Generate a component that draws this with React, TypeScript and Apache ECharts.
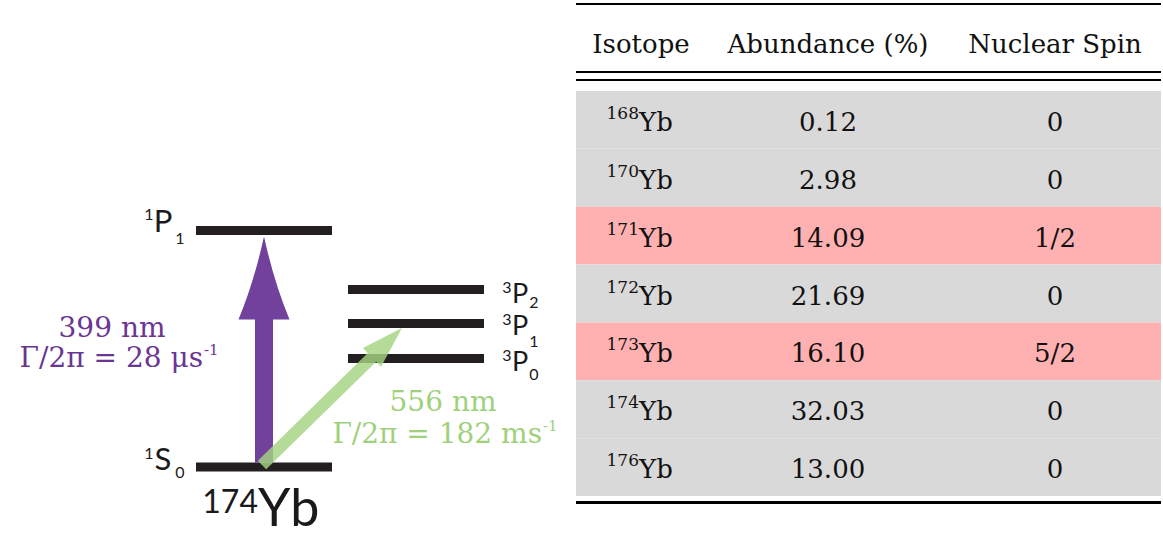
import React, { useEffect, useRef } from "react";
import * as echarts from "echarts";

// ---------------- Data ----------------
const headers = ["Isotope", "Abundance (%)", "Nuclear Spin"];
const massNumbers = ["168", "170", "171", "172", "173", "174", "176"];
const abundances = ["0.12", "2.98", "14.09", "21.69", "16.10", "32.03", "13.00"];
const spins = ["0", "0", "1/2", "0", "5/2", "0", "0"];

const levelMultiplicity = ["1", "1", "3", "3", "3"];
const levelOrbital = ["S", "P", "P", "P", "P"];
const levelJ = ["0", "1", "0", "1", "2"];
// schematic (not to scale) level heights in diagram units
const levelHeight = [467, 230.5, 358.5, 323.5, 289.5];
const levelColumn = [0, 0, 1, 1, 1];

const transitionFrom = [0, 0];
const transitionTo = [1, 3];
const wavelengths = ["399 nm", "556 nm"];
const linewidths = ["Γ/2π = 28 μs", "Γ/2π = 182 ms"];
const linewidthExp = ["-1", "-1"];
const isotopeLabelMass = "174";
const isotopeLabelSymbol = "Yb";

// ---------------- Layout / style ----------------
const W = 1163;
const H = 536;
const COLS = [
  { x0: 196, x1: 332 },
  { x0: 348, x1: 484 },
];
const BAR_T = 9;
const BAR_COLOR = "#231f20";
const labelMainDy = [-9, -11, 2, 1, 3];
const labelSubDy = [4, 7, 15, 17, 12];
const arrowStartX = [264, 262];
const arrowEndX = [264, 402];
const arrowStartDy = [-4.5, -2];
const arrowEndDy = [6, 4.5];
const arrowColors = ["#71419b", "#a3d481"];
const textColors = ["#6b3593", "#9fd17c"];
const wlAnchor = [
  { x: 112, y: 327 },
  { x: 443, y: 401 },
];
const lwRight = [203, 542];
const lwY = [357, 433];

const TABLE_LEFT = 576;
const TABLE_W = 585;
const TABLE_TOP = 91;
const TABLE_H = 405;
const columnCenters = [65, 252, 479];
const SERIF = "'DejaVu Serif', serif";
const SANS = "Lato, 'Open Sans', sans-serif";
const LABEL_INK = "#1a1a1a";

function txt(x: number, y: number, text: string, size: number, fill: string, family: string, align = "center", extra: any = {}) {
  return {
    type: "text",
    x,
    y,
    style: { text, fontSize: size, fontFamily: family, fill, align, verticalAlign: "middle", ...extra },
  };
}

export default function App() {
  const ref = useRef<HTMLDivElement>(null);

  useEffect(() => {
    if (!ref.current) return;
    const chart = echarts.init(ref.current, undefined, { renderer: "svg" });

    const levelData = levelHeight.map((h, i) => [COLS[levelColumn[i]].x0, h, i]);

    const renderLevel = (params: any, api: any) => {
      const i = api.value(2);
      const col = COLS[levelColumn[i]];
      const h = levelHeight[i];
      const p0 = api.coord([col.x0, h]);
      const p1 = api.coord([col.x1, h]);
      const children: any[] = [
        {
          type: "rect",
          shape: { x: p0[0], y: p0[1] - BAR_T / 2, width: p1[0] - p0[0], height: BAR_T },
          style: { fill: BAR_COLOR },
        },
      ];
      const mainY = p0[1] + labelMainDy[i];
      const subY = p0[1] + labelSubDy[i];
      const small = { lineHeight: 12 };
      const big = { lineHeight: 22 };
      if (levelColumn[i] === 0) {
        const mx = p0[0] - 33;
        children.push(txt(mx, mainY, levelOrbital[i], 31, LABEL_INK, SANS, "center", big));
        children.push(txt(mx - 14, mainY - 6, levelMultiplicity[i], 16, LABEL_INK, SANS, "center", small));
        children.push(txt(mx + 17, subY, levelJ[i], 16, LABEL_INK, SANS, "center", small));
      } else {
        const mx = p1[0] + 36;
        children.push(txt(mx, mainY, levelOrbital[i], 27, LABEL_INK, SANS, "center", big));
        children.push(txt(mx - 13, mainY - 6, levelMultiplicity[i], 16, LABEL_INK, SANS, "center", small));
        children.push(txt(mx + 14, subY, levelJ[i], 16, LABEL_INK, SANS, "center", small));
      }
      return { type: "group", children };
    };

    const renderArrow = (params: any, api: any) => {
      const t = api.value(0);
      const a = api.coord([arrowStartX[t], levelHeight[transitionFrom[t]] + arrowStartDy[t]]);
      const b = api.coord([arrowEndX[t], levelHeight[transitionTo[t]] + arrowEndDy[t]]);
      const children: any[] = [];
      if (t === 0) {
        const tx = b[0];
        const ty = b[1];
        const headLen = 83;
        const hw = 25.5;
        const sw = 9;
        const by = ty + headLen;
        children.push({
          type: "rect",
          shape: { x: tx - sw, y: by - 0.5, width: sw * 2, height: a[1] - by + 0.5 },
          style: { fill: arrowColors[t] },
        });
        const d = `M ${tx} ${ty} Q ${tx - 10} ${ty + headLen * 0.55} ${tx - hw} ${by} L ${tx + hw} ${by} Q ${tx + 10} ${ty + headLen * 0.55} ${tx} ${ty} Z`;
        children.push({ type: "path", shape: { pathData: d }, style: { fill: arrowColors[t] } });
      } else {
        const dx = b[0] - a[0];
        const dy = b[1] - a[1];
        const len = Math.sqrt(dx * dx + dy * dy);
        const ux = dx / len;
        const uy = dy / len;
        const nx = -uy;
        const ny = ux;
        const headLen = 42;
        const hw = 13;
        const sw = 6;
        const bx = b[0] - ux * headLen;
        const byy = b[1] - uy * headLen;
        children.push({
          type: "polygon",
          shape: {
            points: [
              [a[0] + nx * sw, a[1] + ny * sw],
              [bx + nx * sw, byy + ny * sw],
              [bx + nx * hw, byy + ny * hw],
              [b[0], b[1]],
              [bx - nx * hw, byy - ny * hw],
              [bx - nx * sw, byy - ny * sw],
              [a[0] - nx * sw, a[1] - ny * sw],
            ],
          },
          style: { fill: arrowColors[t], opacity: 0.82 },
        });
      }
      // labels
      const wl = api.coord([wlAnchor[t].x, wlAnchor[t].y]);
      children.push(txt(wl[0], wl[1], wavelengths[t], 28, textColors[t], SERIF));
      const lw = api.coord([lwRight[t], lwY[t]]);
      children.push(txt(lw[0], lw[1], linewidths[t], 28, textColors[t], SERIF, "right"));
      children.push(txt(lw[0] + 1, lw[1] - 7, linewidthExp[t], 15, textColors[t], SERIF, "left"));
      return { type: "group", children };
    };

    const renderRow = (params: any, api: any) => {
      const i = api.value(1);
      const cs = params.coordSys;
      const yc = api.coord([0, i])[1];
      const band = api.size([0, 1])[1];
      const highlight = spins[i] !== "0";
      const cx = columnCenters.map((c) => api.coord([c, i])[0]);
      const ty = yc + 2;
      return {
        type: "group",
        children: [
          {
            type: "rect",
            shape: { x: cs.x, y: yc - band / 2, width: cs.width, height: band },
            style: { fill: highlight ? "#ffb1b1" : "#d9d9d9" },
          },
          txt(cx[0] - 2, ty - 9, massNumbers[i], 17, "#111", SERIF, "right"),
          txt(cx[0] - 2, ty, "Yb", 26, "#111", SERIF, "left"),
          txt(cx[1], ty, abundances[i], 26, "#111", SERIF),
          txt(cx[2], ty, spins[i], 26, "#111", SERIF),
        ],
      };
    };

    const ruleX1 = TABLE_LEFT + TABLE_W;
    const graphics: any[] = [
      { type: "line", shape: { x1: TABLE_LEFT, y1: 4, x2: ruleX1, y2: 4 }, style: { stroke: "#000", lineWidth: 2 } },
      { type: "line", shape: { x1: TABLE_LEFT, y1: 72, x2: ruleX1, y2: 72 }, style: { stroke: "#000", lineWidth: 2 } },
      { type: "line", shape: { x1: TABLE_LEFT, y1: 80, x2: ruleX1, y2: 80 }, style: { stroke: "#000", lineWidth: 2 } },
      { type: "line", shape: { x1: TABLE_LEFT, y1: 502.5, x2: ruleX1, y2: 502.5 }, style: { stroke: "#000", lineWidth: 3 } },
      ...headers.map((h, k) => ({
        type: "text",
        x: TABLE_LEFT + columnCenters[k],
        y: 44,
        style: { text: h, fontSize: 26, fontFamily: SERIF, fill: "#111", align: "center", verticalAlign: "middle" },
      })),
      {
        type: "text",
        x: 258,
        y: 500,
        style: { text: isotopeLabelMass, fontSize: 32, fontFamily: SANS, fill: LABEL_INK, align: "right", verticalAlign: "middle" },
      },
      {
        type: "text",
        x: 258,
        y: 506,
        style: { text: isotopeLabelSymbol, fontSize: 52, lineHeight: 44, fontFamily: SANS, fill: LABEL_INK, align: "left", verticalAlign: "middle" },
      },
    ];

    chart.setOption({
      animation: false,
      backgroundColor: "#fff",
      grid: [
        { left: 0, top: 0, width: W, height: H },
        { left: TABLE_LEFT, top: TABLE_TOP, width: TABLE_W, height: TABLE_H },
      ],
      xAxis: [
        { type: "value", gridIndex: 0, min: 0, max: W, show: false },
        { type: "value", gridIndex: 1, min: 0, max: TABLE_W, show: false },
      ],
      yAxis: [
        { type: "value", gridIndex: 0, min: 0, max: H, inverse: true, show: false },
        { type: "category", gridIndex: 1, data: massNumbers, inverse: true, show: false },
      ],
      graphic: graphics,
      series: [
        {
          type: "custom",
          xAxisIndex: 1,
          yAxisIndex: 1,
          data: massNumbers.map((_, i) => [0, i]),
          encode: { x: 0, y: 1 },
          renderItem: renderRow,
          silent: true,
        },
        {
          type: "custom",
          xAxisIndex: 0,
          yAxisIndex: 0,
          data: levelData,
          encode: { x: 0, y: 1 },
          renderItem: renderLevel,
          silent: true,
          z: 2,
        },
        {
          type: "custom",
          xAxisIndex: 0,
          yAxisIndex: 0,
          data: transitionFrom.map((_, t) => [t, levelHeight[transitionTo[t]]]),
          encode: { x: 0, y: 1 },
          renderItem: renderArrow,
          silent: true,
          z: 3,
        },
      ],
    });

    return () => chart.dispose();
  }, []);

  return (
    <div
      ref={ref}
      style={{ position: "fixed", left: 0, top: 0, width: W, height: H, background: "#fff" }}
    />
  );
}
